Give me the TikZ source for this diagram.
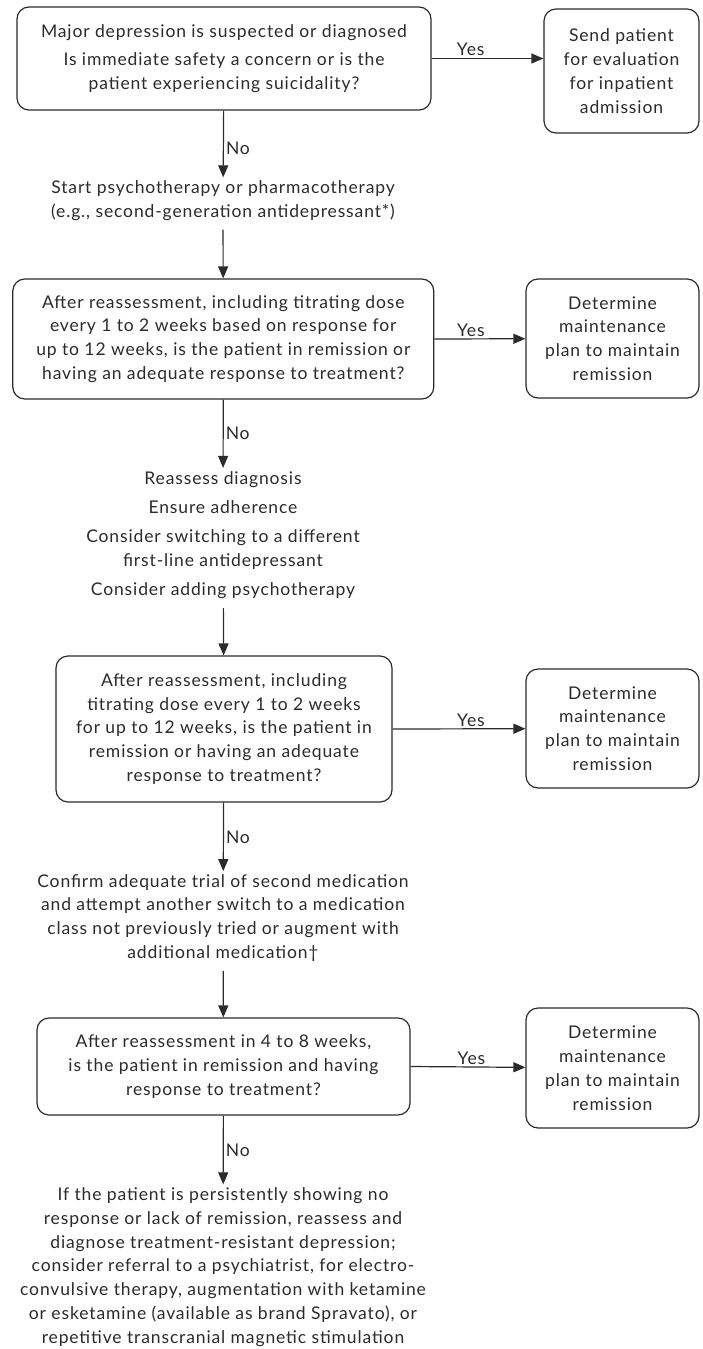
\documentclass[tikz,border=0pt]{standalone}
\usepackage{fontspec}
\setmainfont{Lato}[LetterSpace=5]
\usetikzlibrary{positioning,arrows.meta}
\definecolor{ink}{HTML}{2B2B2B}

\begin{document}
\begin{tikzpicture}[x=1pt, y=-1pt, font=\fontsize{17.5}{23.8}\selectfont, color=ink]
\tikzstyle{box}=[draw, rounded corners=12pt, line width=1.2pt, align=center, inner sep=2pt]
\tikzstyle{txt}=[align=center, inner sep=3pt]
\tikzstyle{lbl}=[inner sep=2pt]
\tikzstyle{flow}=[line width=1.2pt, -{Triangle[length=12pt, width=10pt]}]

\useasboundingbox (0,0) rectangle (702,1349);

% main column
\node[box, minimum width=414pt, minimum height=103pt] (q1) at (224,58.5)
  {Major depression is suspected or diagnosed\\[5pt]
   Is immediate safety a concern or is the\\ patient experiencing suicidality?};
\node[txt] (start) at (223,200.5)
  {Start psychotherapy or pharmacotherapy\\ (e.g., second-generation antidepressant*)};
\node[box, minimum width=421pt, minimum height=120pt] (q2) at (223.3,339)
  {After reassessment, including titrating dose\\ every 1 to 2 weeks based on response for\\
   up to 12 weeks, is the patient in remission or\\ having an adequate response to treatment?};
\node[txt] (recheck) at (223,535)
  {Reassess diagnosis\\[5.5pt] Ensure adherence\\[5.5pt]
   Consider switching to a different\\ first-line antidepressant\\[5.5pt]
   Consider adding psychotherapy};
\node[box, minimum width=336pt, minimum height=146pt] (q3) at (224,729)
  {After reassessment, including\\ titrating dose every 1 to 2 weeks\\
   for up to 12 weeks, is the patient in\\ remission or having an adequate\\ response to treatment?};
\node[txt] (confirm) at (223,918)
  {Confirm adequate trial of second medication\\ and attempt another switch to a medication\\
   class not previously tried or augment with\\ additional medication\textdagger};
\node[box, minimum width=373pt, minimum height=97pt] (q4) at (223.5,1066.5)
  {After reassessment in 4 to 8 weeks,\\ is the patient in remission and having\\ response to treatment?};
\node[txt] (refer) at (223,1267)
  {If the patient is persistently showing no\\ response or lack of remission, reassess and\\
   diagnose treatment-resistant depression;\\ consider referral to a psychiatrist, for electro-\\
   convulsive therapy, augmentation with ketamine\\ or esketamine (available as brand Spravato), or\\
   repetitive transcranial magnetic stimulation};

% yes column
\node[box, minimum width=155pt, minimum height=124pt] (send) at (621.5,71)
  {Send patient\\ for evaluation\\ for inpatient\\ admission};
\node[box, minimum width=173pt, minimum height=119pt] (keep2) at (612.5,338.5)
  {Determine\\ maintenance\\ plan to maintain\\ remission};
\node[box, minimum width=173pt, minimum height=119pt] (keep3) at (612.5,728.5)
  {Determine\\ maintenance\\ plan to maintain\\ remission};
\node[box, minimum width=173pt, minimum height=120pt] (keep4) at (612.5,1068)
  {Determine\\ maintenance\\ plan to maintain\\ remission};

\draw[flow] (q1) -- node[lbl, right, midway, yshift=-4pt] {No} (start);
\draw[flow, shorten <=6pt] (start) -- (q2);
\draw[flow] (q2) -- node[lbl, right, midway] {No} (recheck);
\draw[flow, shorten <=6pt] (recheck) -- (q3);
\draw[flow] (q3) -- node[lbl, right, midway] {No} (confirm);
\draw[flow, shorten <=6pt] (confirm) -- (q4);
\draw[flow] (q4) -- node[lbl, right, midway] {No} (refer);

\draw[flow] (q1.east) -- node[lbl, above, pos=.35] {Yes} (q1.east -| send.west);
\draw[flow] (q2.east) -- node[lbl, above, pos=.4] {Yes} (keep2);
\draw[flow] (q3.east) -- node[lbl, above, pos=.59] {Yes} (keep3);
\draw[flow] (q4.east) -- node[lbl, above, pos=.53] {Yes} (keep4);
\end{tikzpicture}
\end{document}
